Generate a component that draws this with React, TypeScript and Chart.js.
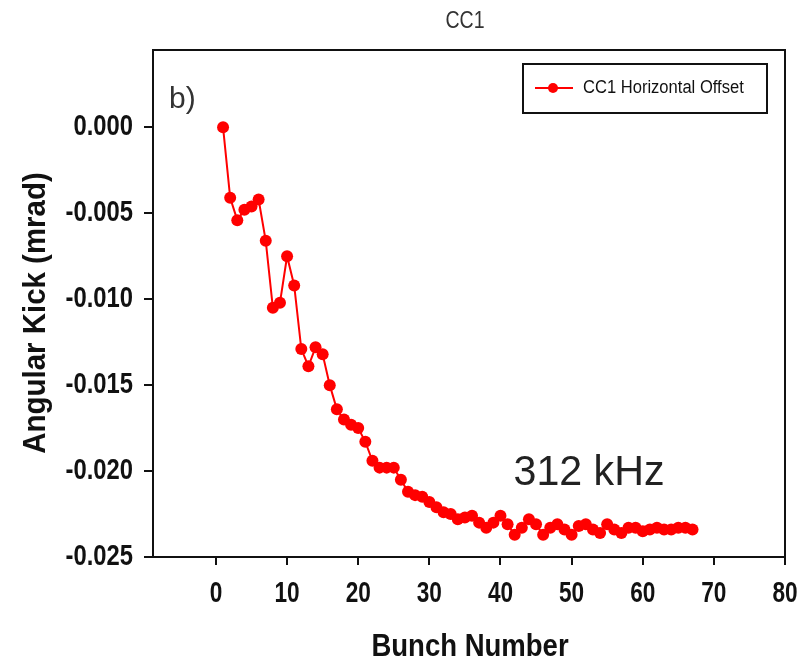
import React, { useEffect, useRef } from "react";
import { Chart, registerables } from "chart.js";

Chart.register(...registerables);

const bunchNumbers = [
  1, 2, 3, 4, 5, 6, 7, 8, 9, 10, 11, 12, 13, 14, 15, 16, 17, 18, 19, 20,
  21, 22, 23, 24, 25, 26, 27, 28, 29, 30, 31, 32, 33, 34, 35, 36, 37, 38, 39, 40,
  41, 42, 43, 44, 45, 46, 47, 48, 49, 50, 51, 52, 53, 54, 55, 56, 57, 58, 59, 60,
  61, 62, 63, 64, 65, 66, 67,
];

const angularKick = [
  0.0, -0.0041, -0.0054, -0.0048, -0.0046, -0.0042, -0.0066, -0.0105, -0.0102, -0.0075,
  -0.0092, -0.0129, -0.0139, -0.0128, -0.0132, -0.015, -0.0164, -0.017, -0.0173, -0.0175,
  -0.0183, -0.0194, -0.0198, -0.0198, -0.0198, -0.0205, -0.0212, -0.0214, -0.0215, -0.0218,
  -0.0221, -0.0224, -0.0225, -0.0228, -0.0227, -0.0226, -0.023, -0.0233, -0.023, -0.0226,
  -0.0231, -0.0237, -0.0233, -0.0228, -0.0231, -0.0237, -0.0233, -0.0231, -0.0234, -0.0237,
  -0.0232, -0.0231, -0.0234, -0.0236, -0.0231, -0.0234, -0.0236, -0.0233, -0.0233, -0.0235,
  -0.0234, -0.0233, -0.0234, -0.0234, -0.0233, -0.0233, -0.0234,
];

const xTickValues = [0, 10, 20, 30, 40, 50, 60, 70, 80];
const yTickValues = [0, -0.005, -0.01, -0.015, -0.02, -0.025];

const chartTitle = "CC1";
const xAxisTitle = "Bunch Number";
const yAxisTitle = "Angular Kick (mrad)";
const seriesLabel = "CC1 Horizontal Offset";
const panelLabel = "b)";
const freqLabel = "312 kHz";

const FAMILY = "'Liberation Sans', Arial, sans-serif";
const RED = "#ff0000";
const INK = "#111";

function drawNarrow(
  ctx: CanvasRenderingContext2D,
  text: string,
  x: number,
  y: number,
  sx: number,
  align: CanvasTextAlign
) {
  ctx.save();
  ctx.translate(x, y);
  ctx.scale(sx, 1);
  ctx.textAlign = align;
  ctx.fillText(text, 0, 0);
  ctx.restore();
}

export default function App() {
  const canvasRef = useRef<HTMLCanvasElement | null>(null);

  useEffect(() => {
    const canvas = canvasRef.current;
    if (!canvas) return;

    const decorPlugin = {
      id: "decor",
      afterDraw(chart: any) {
        const ctx = chart.ctx as CanvasRenderingContext2D;
        const a = chart.chartArea;
        const xs = chart.scales.x;
        const ys = chart.scales.y;
        ctx.save();
        // plot frame
        ctx.strokeStyle = INK;
        ctx.lineWidth = 2;
        ctx.strokeRect(a.left, a.top, a.right - a.left, a.bottom - a.top);
        ctx.beginPath();
        ctx.moveTo(a.left - 8, a.bottom);
        ctx.lineTo(a.left, a.bottom);
        ctx.stroke();

        // tick labels
        ctx.fillStyle = INK;
        ctx.font = `bold 29px ${FAMILY}`;
        ctx.textBaseline = "middle";
        xTickValues.forEach((v) => {
          drawNarrow(ctx, String(v), xs.getPixelForValue(v), 594, 0.78, "center");
        });
        yTickValues.forEach((v) => {
          drawNarrow(ctx, v.toFixed(3), 133, ys.getPixelForValue(v), 0.82, "right");
        });

        // title
        ctx.fillStyle = "#333";
        ctx.font = `23px ${FAMILY}`;
        drawNarrow(ctx, chartTitle, 465, 22, 0.85, "center");

        // axis titles
        ctx.fillStyle = INK;
        ctx.font = `bold 32px ${FAMILY}`;
        drawNarrow(ctx, xAxisTitle, 470, 647, 0.86, "center");
        ctx.save();
        ctx.translate(36, 313);
        ctx.rotate(-Math.PI / 2);
        ctx.font = `bold 31px ${FAMILY}`;
        drawNarrow(ctx, yAxisTitle, 0, 0, 0.95, "center");
        ctx.restore();

        // panel label
        ctx.fillStyle = "#333";
        ctx.font = `30px ${FAMILY}`;
        drawNarrow(ctx, panelLabel, 169, 100, 1, "left");

        // frequency annotation
        ctx.fillStyle = "#222";
        ctx.font = `42px ${FAMILY}`;
        drawNarrow(ctx, freqLabel, 589, 473, 0.98, "center");

        // legend
        ctx.strokeStyle = INK;
        ctx.lineWidth = 2;
        ctx.strokeRect(523, 64, 244, 49);
        ctx.strokeStyle = RED;
        ctx.beginPath();
        ctx.moveTo(535, 88);
        ctx.lineTo(573, 88);
        ctx.stroke();
        ctx.fillStyle = RED;
        ctx.beginPath();
        ctx.arc(553, 88, 5, 0, Math.PI * 2);
        ctx.fill();
        ctx.fillStyle = INK;
        ctx.font = `18px ${FAMILY}`;
        drawNarrow(ctx, seriesLabel, 583, 88, 0.92, "left");
        ctx.restore();
      },
    };

    const chart = new Chart(canvas, {
      type: "line",
      data: {
        datasets: [
          {
            label: seriesLabel,
            data: bunchNumbers.map((x, i) => ({ x, y: angularKick[i] })),
            borderColor: RED,
            backgroundColor: RED,
            borderWidth: 2,
            pointRadius: 6,
            pointBorderWidth: 0,
            pointBackgroundColor: RED,
            tension: 0,
          },
        ],
      },
      options: {
        responsive: false,
        animation: false,
        layout: { padding: { top: 50, right: 25, left: 0, bottom: 0 } },
        plugins: {
          legend: { display: false },
          title: { display: false },
          tooltip: { enabled: false },
        },
        scales: {
          x: {
            type: "linear",
            min: -8.85,
            max: 80,
            afterFit: (s: any) => {
              s.height = 106;
            },
            afterBuildTicks: (s: any) => {
              s.ticks = xTickValues.map((v) => ({ value: v }));
            },
            grid: {
              display: true,
              drawOnChartArea: false,
              drawTicks: true,
              tickLength: 8,
              color: INK,
              lineWidth: 2,
            },
            border: { display: true, color: INK, width: 2 },
            ticks: { display: false },
          },
          y: {
            type: "linear",
            min: -0.025,
            max: 0.0045,
            afterFit: (s: any) => {
              s.width = 153;
            },
            afterBuildTicks: (s: any) => {
              s.ticks = yTickValues.map((v) => ({ value: v }));
            },
            grid: {
              display: true,
              drawOnChartArea: false,
              drawTicks: true,
              tickLength: 9,
              color: INK,
              lineWidth: 2,
            },
            border: { display: true, color: INK, width: 2 },
            ticks: { display: false },
          },
        },
      },
      plugins: [decorPlugin],
    });

    return () => chart.destroy();
  }, []);

  return (
    <div style={{ position: "fixed", left: 0, top: 0, width: 810, height: 663, background: "#fff" }}>
      <canvas ref={canvasRef} width={810} height={663} style={{ display: "block", width: 810, height: 663 }} />
    </div>
  );
}
